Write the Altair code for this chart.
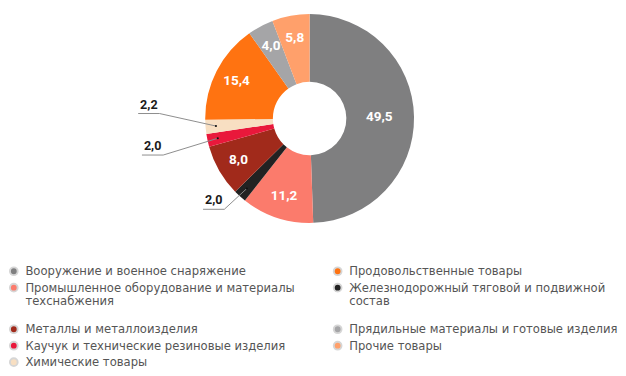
import altair as alt
import pandas as pd

# Slices in drawing order (clockwise from 12 o'clock)
categories = [
    "Вооружение и военное снаряжение",
    "Промышленное оборудование и материалы техснабжения",
    "Железнодорожный тяговой и подвижной состав",
    "Металлы и металлоизделия",
    "Каучук и технические резиновые изделия",
    "Химические товары",
    "Продовольственные товары",
    "Прядильные материалы и готовые изделия",
    "Прочие товары",
]
values = [49.5, 11.2, 2.0, 8.0, 2.0, 2.2, 15.4, 4.0, 5.8]
labels = ["49,5", "11,2", "2,0", "8,0", "2,0", "2,2", "15,4", "4,0", "5,8"]
colors = ["#7f7f80", "#fb7b6c", "#222222", "#a12a1b", "#e9183b",
          "#f8dfc2", "#ff7311", "#a5a5a7", "#ffa06b"]

# Legend order (column-major: left column, then right column)
legend_order = [0, 1, 3, 4, 5, 6, 2, 7, 8]

df = pd.DataFrame({
    "category": categories,
    "value": values,
    "label": labels,
    "order": list(range(len(categories))),
})

R = 108
W, H = 616, 216
CX = 312  # pie centre within the plot area

xs = alt.Scale(domain=[-CX, W - CX])
ys = alt.Scale(domain=[-H / 2, H / 2])

color = alt.Color(
    "category:N",
    scale=alt.Scale(domain=[categories[i] for i in legend_order],
                    range=[colors[i] for i in legend_order]),
    legend=alt.Legend(
        title=None, orient="none", legendX=0, legendY=260, columns=2,
        columnPadding=36, rowPadding=1, symbolType="circle", symbolSize=64,
        symbolStrokeColor="#d6d6d6", symbolStrokeWidth=2, symbolOpacity=1,
        labelFont="DejaVu Sans", labelFontSize=12, labelColor="#555555",
        labelLimit=400, labelOffset=6,
        labelExpr="split(replace(replace(datum.label, ' техснабжения', '|техснабжения|'), ' состав', '|состав|'), '|')",
    ),
)

theta = alt.Theta("value:Q", stack=True)
order = alt.Order("order:Q")
cx = alt.X(datum=0, scale=xs, axis=None)
cy = alt.Y(datum=0, scale=ys, axis=None)

base = alt.Chart(df)

arcs = base.mark_arc(outerRadius=R, innerRadius=38).encode(
    theta=theta, order=order, color=color, x=cx, y=cy
)

big_text = base.transform_calculate(
    t="datum.value > 40 ? datum.label : ''",
).mark_text(font="Roboto", fontSize=14, fontWeight="bold", color="white",
            radius=72).encode(theta=theta, order=order, text="t:N", x=cx, y=cy)

mid_text = base.transform_calculate(
    t="datum.value >= 3 && datum.value <= 40 ? datum.label : ''",
).mark_text(font="Roboto", fontSize=14, fontWeight="bold", color="white",
            radius=85).encode(theta=theta, order=order, text="t:N", x=cx, y=cy)

lead = base.transform_joinaggregate(
    total="sum(value)"
).transform_window(
    cum="sum(value)", sort=[alt.SortField("order")], frame=[None, 0]
).transform_calculate(
    mid="(datum.cum - datum.value / 2) / datum.total * 2 * PI",
).transform_calculate(
    dx=f"0.9 * {R} * sin(datum.mid)",
    dy=f"0.9 * {R} * cos(datum.mid)",
    ex="204 * sin(datum.mid) + 48",
    ey="-107 - 44.4 * log(abs(cos(datum.mid)))",
).transform_calculate(
    fx="datum.ex - 22",
).transform_filter(alt.datum.value < 3)

diag = lead.mark_rule(color="#8a8a8a", strokeWidth=1).encode(
    x=alt.X("dx:Q", scale=xs, axis=None), y=alt.Y("dy:Q", scale=ys, axis=None),
    x2="ex:Q", y2="ey:Q",
)
horiz = lead.mark_rule(color="#8a8a8a", strokeWidth=1).encode(
    x=alt.X("ex:Q", scale=xs, axis=None), y=alt.Y("ey:Q", scale=ys, axis=None),
    x2="fx:Q",
)
dots = lead.mark_circle(color="#111111", size=5, opacity=1).encode(
    x=alt.X("dx:Q", scale=xs, axis=None), y=alt.Y("dy:Q", scale=ys, axis=None),
)
out_text = lead.mark_text(font="Roboto", fontSize=13, fontWeight="bold",
                          color="#1a1a1a", align="left", baseline="bottom",
                          dy=-2, dx=2).encode(
    x=alt.X("fx:Q", scale=xs, axis=None), y=alt.Y("ey:Q", scale=ys, axis=None),
    text="label:N",
)

chart = alt.layer(arcs, big_text, mid_text, diag, horiz, dots, out_text).properties(
    width=W, height=H,
    padding={"left": 0, "top": 0, "right": 0, "bottom": 0},
).configure_view(stroke=None)

chart.save("out.html", embed_options={"renderer": "svg", "actions": False})
